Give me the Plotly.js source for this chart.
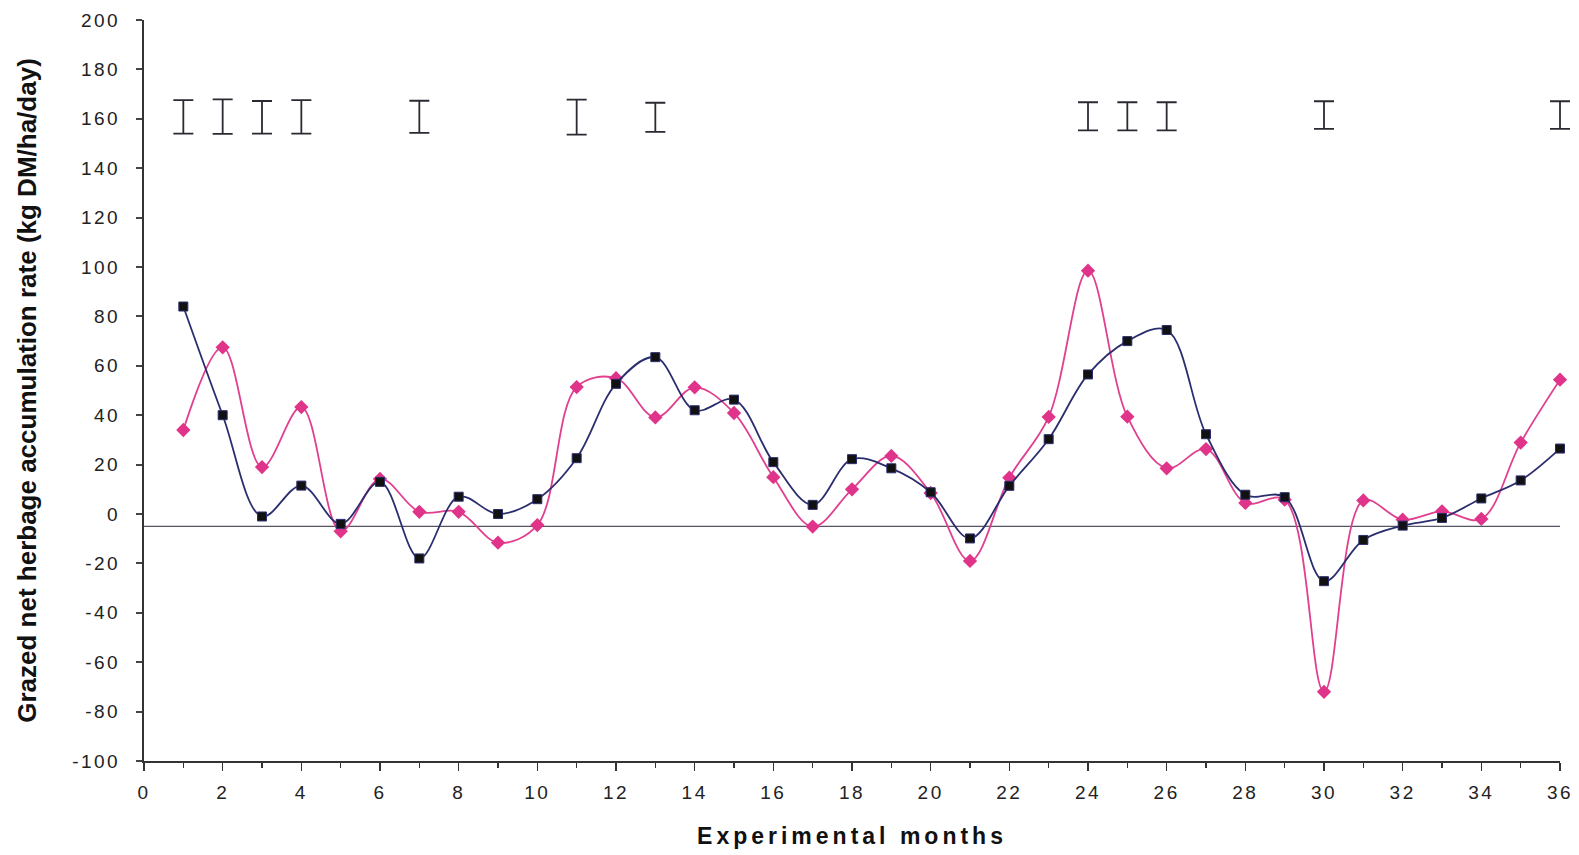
<!DOCTYPE html>
<html>
<head>
<meta charset="utf-8">
<script src="https://cdn.plot.ly/plotly-3.0.1.min.js"></script>
<style>
html,body{margin:0;padding:0;background:#fff;}
#chart{width:1579px;height:855px;}
.ytick text,.xtick text{letter-spacing:2.5px;}
.g-xtitle text{letter-spacing:4px;}
</style>
</head>
<body>
<div id="chart"></div>
<script>
// Experimental months
const months = [1,2,3,4,5,6,7,8,9,10,11,12,13,14,15,16,17,18,19,20,21,22,23,24,25,26,27,28,29,30,31,32,33,34,35,36];
// Series with black square markers (navy line)
const seriesSquare = [84,40,-1,11.5,-4,13,-18,7,0,6,22.6,52.7,63.5,42,46.3,21,3.7,22.2,18.5,8.8,-9.9,11.4,30.3,56.5,70,74.5,32.3,7.8,6.8,-27.2,-10.5,-4.7,-1.6,6.3,13.6,26.5];
// Series with pink diamond markers
const seriesDiamond = [34,67.5,19,43.3,-7,14.2,0.9,0.9,-11.6,-4.5,51.4,55,39.1,51.3,40.9,14.9,-5.1,10,23.5,8.5,-19,14.7,39.3,98.5,39.4,18.5,26.3,4.5,5.8,-72,5.5,-2.3,1.1,-2,28.9,54.4];
// Error bars (LSD) shown at top of chart
const lsdMonths = [1,2,3,4,7,11,13,24,25,26,30,36];
const lsdCentre = [160.8,160.9,160.6,160.8,160.8,160.7,160.6,161,161,161,161.5,161.5];
const lsdHalf = [6.8,7,6.6,6.8,6.5,7.1,5.9,5.7,5.7,5.7,5.6,5.6];
// Reference line
const refX = [0,36];
const refY = [-5,-5];
// Axis ticks
const xTicks = [0,2,4,6,8,10,12,14,16,18,20,22,24,26,28,30,32,34,36];
const yTicks = [200,180,160,140,120,100,80,60,40,20,0,-20,-40,-60,-80,-100];

// main x axis occupies fraction D of the plot width; a hidden wider twin axis
// keeps the same scale so the last error bar is not clipped
const PLOT_W = 1579 - 144 - 5;
const D = 1416 / PLOT_W;
const xMax = 36;

const traces = [
  {x: refX, y: refY, mode:'lines', line:{color:'#555566', width:1.3}, hoverinfo:'skip', showlegend:false},
  {x: months, y: seriesDiamond, mode:'lines+markers',
   line:{color:'#E0408F', width:1.8, shape:'spline', smoothing:1},
   marker:{symbol:'diamond', size:11, color:'#E0338A'}, showlegend:false, cliponaxis:false},
  {x: months, y: seriesSquare, mode:'lines+markers',
   line:{color:'#2B2E6E', width:1.8, shape:'spline', smoothing:1},
   marker:{symbol:'square', size:9, color:'#111111', line:{color:'#2B2E6E', width:1}}, showlegend:false, cliponaxis:false},
  {x: lsdMonths, y: lsdCentre, xaxis:'x2', yaxis:'y', mode:'markers', marker:{size:1, opacity:0}, cliponaxis:false,
   error_y:{type:'data', array: lsdHalf, symmetric:true, color:'#2a2a33', thickness:1.8, width:10},
   showlegend:false, hoverinfo:'skip'}
];

const layout = {
  width:1579, height:855,
  margin:{l:144, r:5, t:20, b:94},
  paper_bgcolor:'#ffffff', plot_bgcolor:'rgba(0,0,0,0)',
  font:{family:'Liberation Sans, Arial, sans-serif', color:'#111'},
  xaxis:{
    domain:[0, D], anchor:'y',
    range:[0,xMax], tickvals:xTicks, ticktext:xTicks.map(String),
    showgrid:false, zeroline:false, showline:true, linecolor:'#333', linewidth:2,
    ticks:'outside', ticklen:8, tickwidth:1.5, tickcolor:'#333',
    minor:{dtick:1, ticks:'outside', ticklen:5, tickwidth:1.5, tickcolor:'#333'},
    tickfont:{size:19, color:'#222'}, ticklabelstandoff:5,
    title:{text:'<b>Experimental months</b>', font:{size:23, color:'#111'}, standoff:26}
  },
  xaxis2:{
    domain:[0,1], anchor:'y', range:[0, xMax / D], visible:false,
    showgrid:false, zeroline:false, showline:false
  },
  yaxis:{
    range:[-100,200], tickvals:yTicks, ticktext:yTicks.map(String),
    showgrid:false, zeroline:false, showline:true, linecolor:'#333', linewidth:2,
    ticks:'outside', ticklen:6, tickwidth:2, tickcolor:'#444',
    tickfont:{size:19, color:'#222'}, ticklabelstandoff:12,
    title:{text:'<b>Grazed net herbage accumulation rate (kg DM/ha/day)</b>', font:{size:26, color:'#111'}, standoff:28}
  }
};

Plotly.newPlot('chart', traces, layout, {displayModeBar:false, staticPlot:true});
</script>
</body>
</html>
